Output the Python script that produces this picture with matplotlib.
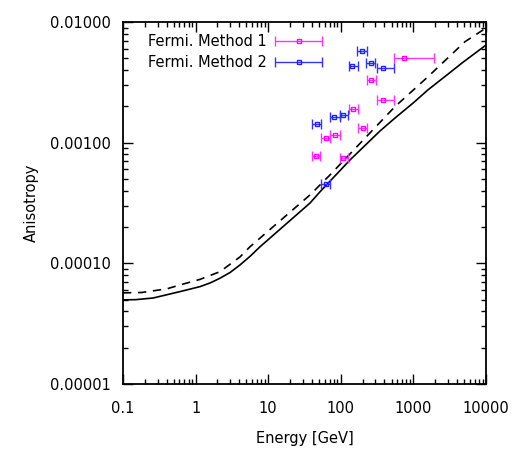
import matplotlib
matplotlib.use("Agg")
import matplotlib.pyplot as plt
from matplotlib.ticker import LogLocator, FixedLocator, FixedFormatter, NullFormatter
from matplotlib.legend_handler import HandlerErrorbar

# model curves
solid_E = [0.1, 0.15, 0.26, 0.61, 1.15, 1.6, 2.17, 3.0, 4.09, 5.6, 7.7, 37.7, 51.6, 134,
           347, 558, 1000, 1589, 3000, 4667, 10000]
solid_A = [4.98e-5, 5.0e-5, 5.16e-5, 5.83e-5, 6.41e-5, 6.89e-5, 7.53e-5, 8.41e-5, 9.7e-5,
           1.14e-4, 1.37e-4, 3.16e-4, 3.91e-4, 7.19e-4, 1.25e-3, 1.60e-3, 2.14e-3, 2.74e-3,
           3.70e-3, 4.57e-3, 6.44e-3]
dash_E = [0.1, 0.18, 0.4, 0.61, 1.15, 2.17, 4.09, 5.6, 37.7, 71, 558, 1589, 5140, 10000]
dash_A = [5.69e-5, 5.73e-5, 6.14e-5, 6.62e-5, 7.36e-5, 8.53e-5, 1.13e-4, 1.37e-4, 3.69e-4,
          5.40e-4, 1.99e-3, 3.52e-3, 6.87e-3, 8.91e-3]

# Fermi method 1 (magenta)
m1_E = [741, 260, 378, 149, 200, 83, 62.5, 45.5, 108]
m1_lo = [541, 227, 312, 130, 174, 72, 54, 39.5, 96]
m1_hi = [1923, 305, 546, 174, 230, 96, 72, 52.5, 126]
m1_A = [5.06e-3, 3.33e-3, 2.27e-3, 1.89e-3, 1.32e-3, 1.16e-3, 1.09e-3, 7.76e-4, 7.51e-4]

# Fermi method 2 (blue)
m2_E = [194, 258, 378, 144, 108, 81.5, 46.6, 62.5]
m2_lo = [169, 222, 312, 130, 96, 72, 40.6, 54]
m2_hi = [232, 296, 546, 172, 126, 96, 53.3, 72]
m2_A = [5.78e-3, 4.55e-3, 4.16e-3, 4.31e-3, 1.68e-3, 1.64e-3, 1.43e-3, 4.55e-4]

x_ticks = [0.1, 1, 10, 100, 1000, 10000]
x_labels = ["0.1", "1", "10", "100", "1000", "10000"]
y_ticks = [1e-5, 1e-4, 1e-3, 1e-2]
y_labels = ["0.00001", "0.00010", "0.00100", "0.01000"]

plt.rcParams['font.family'] = ['DejaVu Sans']
plt.rcParams['font.size'] = 10.5

fig = plt.figure(figsize=(5.32, 4.5), dpi=100)
ax = fig.add_axes([0.2312, 0.1467, 0.6823, 0.8044])
ax.set_xscale('log')
ax.set_yscale('log')

ax.plot(solid_E, solid_A, color='black', lw=1.2)
ax.plot(dash_E, dash_A, color='black', lw=1.2, dashes=(5, 4))


def xerr(E, lo, hi):
    return [[e - l for e, l in zip(E, lo)], [h - e for e, h in zip(E, hi)]]


ax.errorbar(m1_E, m1_A, xerr=xerr(m1_E, m1_lo, m1_hi), fmt='s', ms=3, mfc='none',
            mec='#ff00ff', color='#ff00ff', ecolor='#ff33ff', elinewidth=1.0,
            capsize=3.5, capthick=1.0, label='Fermi. Method 1')
ax.errorbar(m2_E, m2_A, xerr=xerr(m2_E, m2_lo, m2_hi), fmt='s', ms=3, mfc='none',
            mec='#2020ff', color='#2020ff', ecolor='#3333ff', elinewidth=1.0,
            capsize=3.5, capthick=1.0, label='Fermi. Method 2')

ax.set_xlim(0.1, 10000)
ax.set_ylim(1e-5, 1e-2)
ax.xaxis.set_major_locator(FixedLocator(x_ticks))
ax.xaxis.set_major_formatter(FixedFormatter(x_labels))
ax.yaxis.set_major_locator(FixedLocator(y_ticks))
ax.yaxis.set_major_formatter(FixedFormatter(y_labels))
ax.xaxis.set_minor_locator(LogLocator(base=10, subs=range(2, 10), numticks=20))
ax.yaxis.set_minor_locator(LogLocator(base=10, subs=range(2, 10), numticks=20))
ax.xaxis.set_minor_formatter(NullFormatter())
ax.yaxis.set_minor_formatter(NullFormatter())
ax.tick_params(which='both', direction='in', top=True, right=True, width=1.0)
ax.tick_params(which='major', length=7)
ax.tick_params(axis='x', which='major', pad=12)
ax.tick_params(axis='y', which='major', pad=9)
ax.tick_params(which='minor', length=3.5)
for s in ax.spines.values():
    s.set_linewidth(1.3)

ax.set_xlabel('Energy [GeV]', labelpad=11)
ax.set_ylabel('Anisotropy', labelpad=8)

leg = ax.legend(loc='upper left', bbox_to_anchor=(0.052, 0.983), frameon=False,
                markerfirst=False, handlelength=3.4, handletextpad=0.5,
                borderaxespad=0.0, labelspacing=0.4,
                handler_map={type(ax.containers[0]): HandlerErrorbar(xerr_size=1.6)})

fig.savefig('out.png', dpi=100)
